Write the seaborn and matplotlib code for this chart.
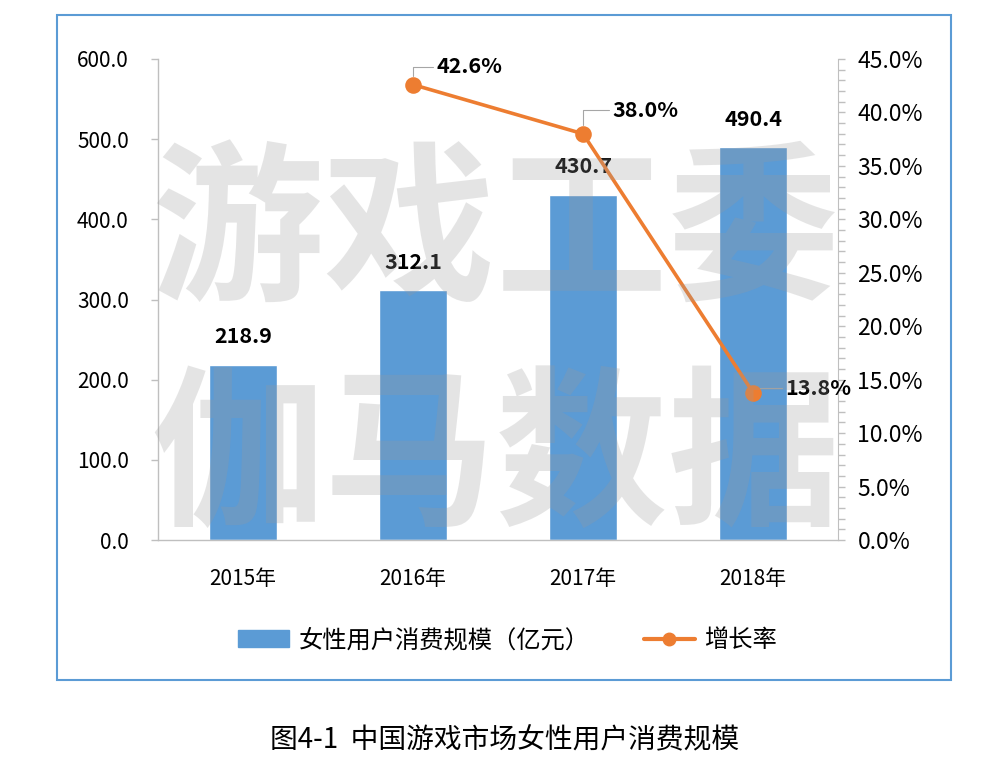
import numpy as np
import pandas as pd
import seaborn as sns
import matplotlib.pyplot as plt
from matplotlib.patches import Patch, Rectangle
from matplotlib.lines import Line2D
from matplotlib.ticker import MultipleLocator, FuncFormatter

# data
years = ['2015年', '2016年', '2017年', '2018年']
spend = [218.9, 312.1, 430.7, 490.4]
growth_years = ['2016年', '2017年', '2018年']
growth = [42.6, 38.0, 13.8]

BLUE = '#5B9BD5'
ORANGE = '#ED7D31'

sns.set_style('white')
plt.rcParams['font.family'] = ['Noto Sans CJK SC', 'DejaVu Sans']
plt.rcParams['text.color'] = 'black'

df = pd.DataFrame({'year': years, 'spend': spend})
dg = pd.DataFrame({'year': growth_years, 'growth': growth})

fig = plt.figure(figsize=(9.82, 7.62), dpi=100)
ax = fig.add_axes([0.1609, 0.2913, 0.6925, 0.6313])

sns.barplot(data=df, x='year', y='spend', order=years, color=BLUE,
            saturation=1, width=0.4, ax=ax, zorder=2)
ax.set_ylim(0, 600)
ax.set_xlim(-0.5, 3.5)
ax.yaxis.set_major_locator(MultipleLocator(100))
ax.yaxis.set_major_formatter(FuncFormatter(lambda v, p: f'{v:.1f}'))
ax.set_xlabel('')
ax.set_ylabel('')
ax.tick_params(axis='y', direction='out', length=5, width=1, color='#bfbfbf',
               pad=16, labelsize=15, left=True, labelcolor='black')
ax.tick_params(axis='x', length=0, pad=20, labelsize=15, labelcolor='black')
for s in ['top', 'right']:
    ax.spines[s].set_visible(False)
for s in ['left', 'bottom']:
    ax.spines[s].set_color('#bfbfbf')
    ax.spines[s].set_linewidth(1)

for i, v in enumerate(spend):
    ax.annotate(f'{v:.1f}', (i, v), xytext=(0, 20), textcoords='offset points',
                ha='center', va='center', fontsize=15.5, fontweight='bold',
                color='black')

ax2 = ax.twinx()
sns.pointplot(data=dg, x='year', y='growth', order=years, color=ORANGE,
              markers='o', markersize=10, linewidth=2.6, ax=ax2)
ax2.set_ylim(0, 45)
ax2.set_xlim(-0.5, 3.5)
ax2.yaxis.set_major_locator(MultipleLocator(5))
ax2.yaxis.set_minor_locator(MultipleLocator(1))
ax2.yaxis.set_major_formatter(FuncFormatter(lambda v, p: f'{v:.1f}%'))
ax2.set_xlabel('')
ax2.set_ylabel('')
ax2.tick_params(axis='y', which='both', direction='out', length=5, width=1,
                color='#bfbfbf', pad=9, labelsize=16.5, right=True,
                labelcolor='black')
for s in ['top', 'left', 'bottom']:
    ax2.spines[s].set_visible(False)
ax2.spines['right'].set_color('#bfbfbf')

offsets = [(17, 13), (21, 17), (23, 3)]
for (yr, g), off in zip(zip(growth_years, growth), offsets):
    i = years.index(yr)
    ax2.annotate(f'{g:.1f}%', (i, g), xytext=off, textcoords='offset points',
                 ha='left', va='center', fontsize=15.5, fontweight='bold',
                 color='black',
                 arrowprops=dict(arrowstyle='-', color='#a6a6a6', lw=0.8,
                                 shrinkA=0, shrinkB=6,
                                 connectionstyle='angle,angleA=0,angleB=90,rad=0'))

# watermark
fig.text(0.505, 0.69, '游戏工委', ha='center', va='center', fontsize=124,
         fontweight='bold', color='#9a9a9a', alpha=0.26, zorder=10)
fig.text(0.505, 0.395, '伽马数据', ha='center', va='center', fontsize=124,
         fontweight='bold', color='#9a9a9a', alpha=0.26, zorder=10)

handles = [Patch(facecolor=BLUE, edgecolor=BLUE),
           Line2D([0], [0], color=ORANGE, lw=3, marker='o', markersize=9)]
fig.legend(handles, ['女性用户消费规模（亿元）', '增长率'], loc='center',
           bbox_to_anchor=(0.517, 0.16), ncol=2, frameon=False, fontsize=17.5,
           handlelength=2.1, columnspacing=2.2, handletextpad=0.4)

fig.patches.append(Rectangle((57 / 982, 1 - 680 / 762), (951 - 57) / 982,
                             (680 - 15) / 762, transform=fig.transFigure,
                             fill=False, edgecolor=BLUE, lw=1.5))

fig.text(0.514, 0.029, '图4-1  中国游戏市场女性用户消费规模', ha='center',
         va='center', fontsize=20)

fig.savefig('out.png', dpi=100)
